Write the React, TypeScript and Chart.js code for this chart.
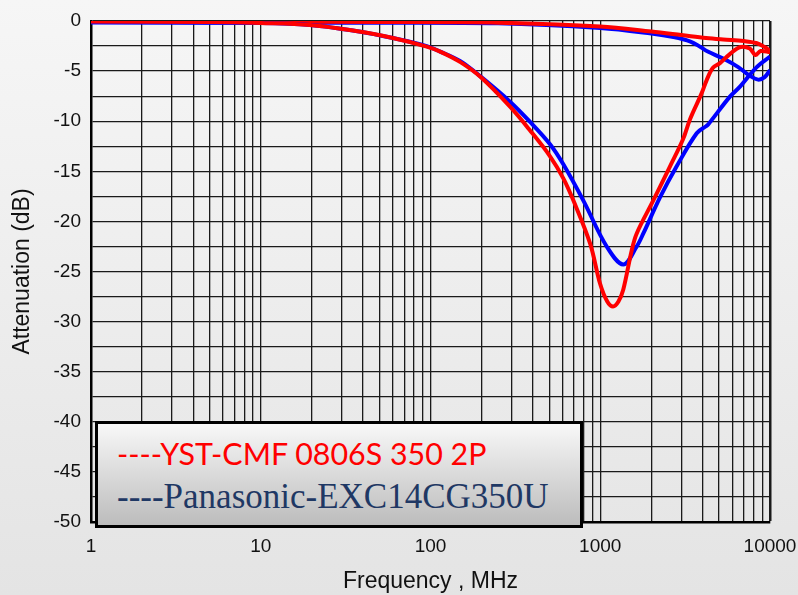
import { useEffect, useRef } from 'react';
import { Chart, registerables } from 'chart.js';

Chart.register(...registerables);

// ---- Data (frequency in MHz, attenuation in dB) ----
const redDiffFreq = [1, 10, 50, 250, 1000, 2000, 3000, 4200, 5300, 7000, 8300, 9300, 10000];
const redDiffDb = [-0.05, -0.07, -0.1, -0.17, -0.55, -1.05, -1.4, -1.7, -1.85, -2.0, -2.2, -2.6, -3.0];

const blueDiffFreq = [1, 30, 250, 1000, 2000, 2700, 3400, 3900, 4300, 5300, 6500, 7500, 8500, 9300, 10000];
const blueDiffDb = [-0.15, -0.18, -0.23, -0.7, -1.25, -1.6, -2.05, -2.6, -3.05, -3.75, -4.6, -5.4, -5.85, -5.6, -4.9];

const redCmFreq = [1, 5, 10, 19.5, 38, 60, 95, 114, 150, 196, 294, 385, 506, 606, 694, 871, 997, 1100, 1190, 1280, 1367, 1532, 1640, 2054, 2577, 3073, 3380, 3960, 4236, 4600, 5070, 5800, 6700, 7600, 8200, 8800, 10000];
const redCmDb = [-0.05, -0.1, -0.2, -0.4, -1.05, -1.7, -2.55, -3.05, -4.1, -5.55, -8.55, -10.9, -13.5, -15.7, -17.9, -22.2, -26.2, -28.0, -28.5, -28.0, -26.8, -22.9, -21.2, -17.9, -14.5, -11.8, -9.8, -7.2, -5.9, -4.7, -4.2, -3.3, -2.6, -2.75, -3.4, -3.0, -3.1];

const blueCmFreq = [1, 10, 19.5, 38, 60, 95, 114, 150, 196, 294, 385, 506, 606, 794, 1091, 1367, 1640, 1794, 2249, 2820, 3700, 4200, 4335, 5806, 6700, 8350, 10000];
const blueCmDb = [-0.1, -0.2, -0.4, -1.05, -1.7, -2.5, -3.05, -4.0, -5.5, -8.05, -10.05, -12.3, -14.3, -17.9, -22.5, -24.3, -22.5, -21.2, -17.6, -14.5, -11.2, -10.5, -10.3, -7.55, -6.5, -4.6, -3.55];

const xTickLabels = ['1', '10', '100', '1000', '10000'];
const legendLabels = ['----YST-CMF 0806S 350 2P', '----Panasonic-EXC14CG350U'];
const xTitle = 'Frequency , MHz';
const yTitle = 'Attenuation (dB)';

function toPoints(f: number[], d: number[]) {
  return f.map((x, i) => ({ x, y: d[i] }));
}

export default function App() {
  const canvasRef = useRef<HTMLCanvasElement | null>(null);

  useEffect(() => {
    document.body.style.margin = '0';
    const canvas = canvasRef.current;
    if (!canvas) return;
    const tickFont = { family: "'Liberation Sans', Arial, sans-serif", size: 19 };
    const titleFont = { family: "'Liberation Sans', Arial, sans-serif", size: 23 };
    const lineDs = (data: { x: number; y: number }[], color: string, w: number) => ({
      data,
      borderColor: color,
      backgroundColor: color,
      borderWidth: w,
      pointRadius: 0,
      tension: 0.35,
      fill: false,
    });
    const chart = new Chart(canvas, {
      type: 'line',
      data: {
        datasets: [
          lineDs(toPoints(redCmFreq, redCmDb), '#ff0000', 4),
          lineDs(toPoints(blueCmFreq, blueCmDb), '#0000ff', 4),
          lineDs(toPoints(redDiffFreq, redDiffDb), '#ff0000', 4),
          lineDs(toPoints(blueDiffFreq, blueDiffDb), '#0000ff', 4),
        ],
      },
      options: {
        animation: false,
        responsive: false,
        maintainAspectRatio: false,
        layout: { padding: { top: 21, right: 28, left: 0, bottom: 0 } },
        plugins: { legend: { display: false }, tooltip: { enabled: false } },
        scales: {
          x: {
            type: 'logarithmic',
            min: 1,
            max: 10000,
            afterBuildTicks: (s: any) => {
              const t: { value: number }[] = [];
              for (let e = 0; e < 4; e++) for (let m = 1; m < 10; m++) t.push({ value: m * Math.pow(10, e) });
              t.push({ value: 10000 });
              s.ticks = t;
            },
            afterFit: (s: any) => {
              s.height = 73;
              s.paddingRight = 0;
              s.paddingLeft = 0;
            },
            ticks: {
              autoSkip: false,
              maxRotation: 0,
              padding: 13,
              font: tickFont,
              color: '#111',
              callback: (v: any) => (xTickLabels.includes(String(v)) ? String(v) : ''),
            },
            grid: {
              color: '#1a1a1a',
              lineWidth: (c: any) => (c.tick && c.tick.value === 10000 ? 2.5 : 1.3),
              drawTicks: false,
            },
            border: { color: '#000', width: 2.5 },
            title: { display: true, text: xTitle, font: titleFont, color: '#111', padding: { top: 0, bottom: 0 } },
          },
          y: {
            type: 'linear',
            min: -50,
            max: 0,
            afterFit: (s: any) => {
              s.width = 91;
              s.paddingTop = 0;
              s.paddingBottom = 0;
            },
            ticks: {
              stepSize: 2.5,
              autoSkip: false,
              padding: 10,
              font: tickFont,
              color: '#111',
              callback: (v: any) => (Number(v) % 5 === 0 ? String(Number(v)) : ''),
            },
            grid: { color: '#1a1a1a', lineWidth: 1.3, drawTicks: false },
            border: { color: '#000', width: 2.5 },
            title: { display: true, text: yTitle, font: titleFont, color: '#111', padding: { top: 9, bottom: 0 } },
          },
        },
      },
    });
    return () => chart.destroy();
  }, []);

  return (
    <div
      style={{
        position: 'relative',
        width: 798,
        height: 595,
        overflow: 'hidden',
        background: 'linear-gradient(#f6f6f6, #e4e4e4)',
      }}
    >
      <canvas ref={canvasRef} width={798} height={595} style={{ position: 'absolute', left: 0, top: 0 }} />
      <div
        style={{
          position: 'absolute',
          left: 95,
          top: 421,
          width: 488,
          height: 107,
          boxSizing: 'border-box',
          border: '3px solid #000',
          background: 'linear-gradient(#f8f8f8, #bcbcbc)',
        }}
      />
      <div
        style={{
          position: 'absolute',
          left: 117,
          top: 438,
          fontFamily: "Lato, 'Open Sans', sans-serif",
          fontSize: 30.4,
          lineHeight: '30px',
          color: '#ff0000',
          whiteSpace: 'nowrap',
        }}
      >
        {legendLabels[0]}
      </div>
      <div
        style={{
          position: 'absolute',
          left: 117,
          top: 479,
          fontFamily: "'Liberation Serif', 'Times New Roman', serif",
          fontSize: 35,
          lineHeight: '35px',
          color: '#1f3864',
          whiteSpace: 'nowrap',
        }}
      >
        {legendLabels[1]}
      </div>
    </div>
  );
}
